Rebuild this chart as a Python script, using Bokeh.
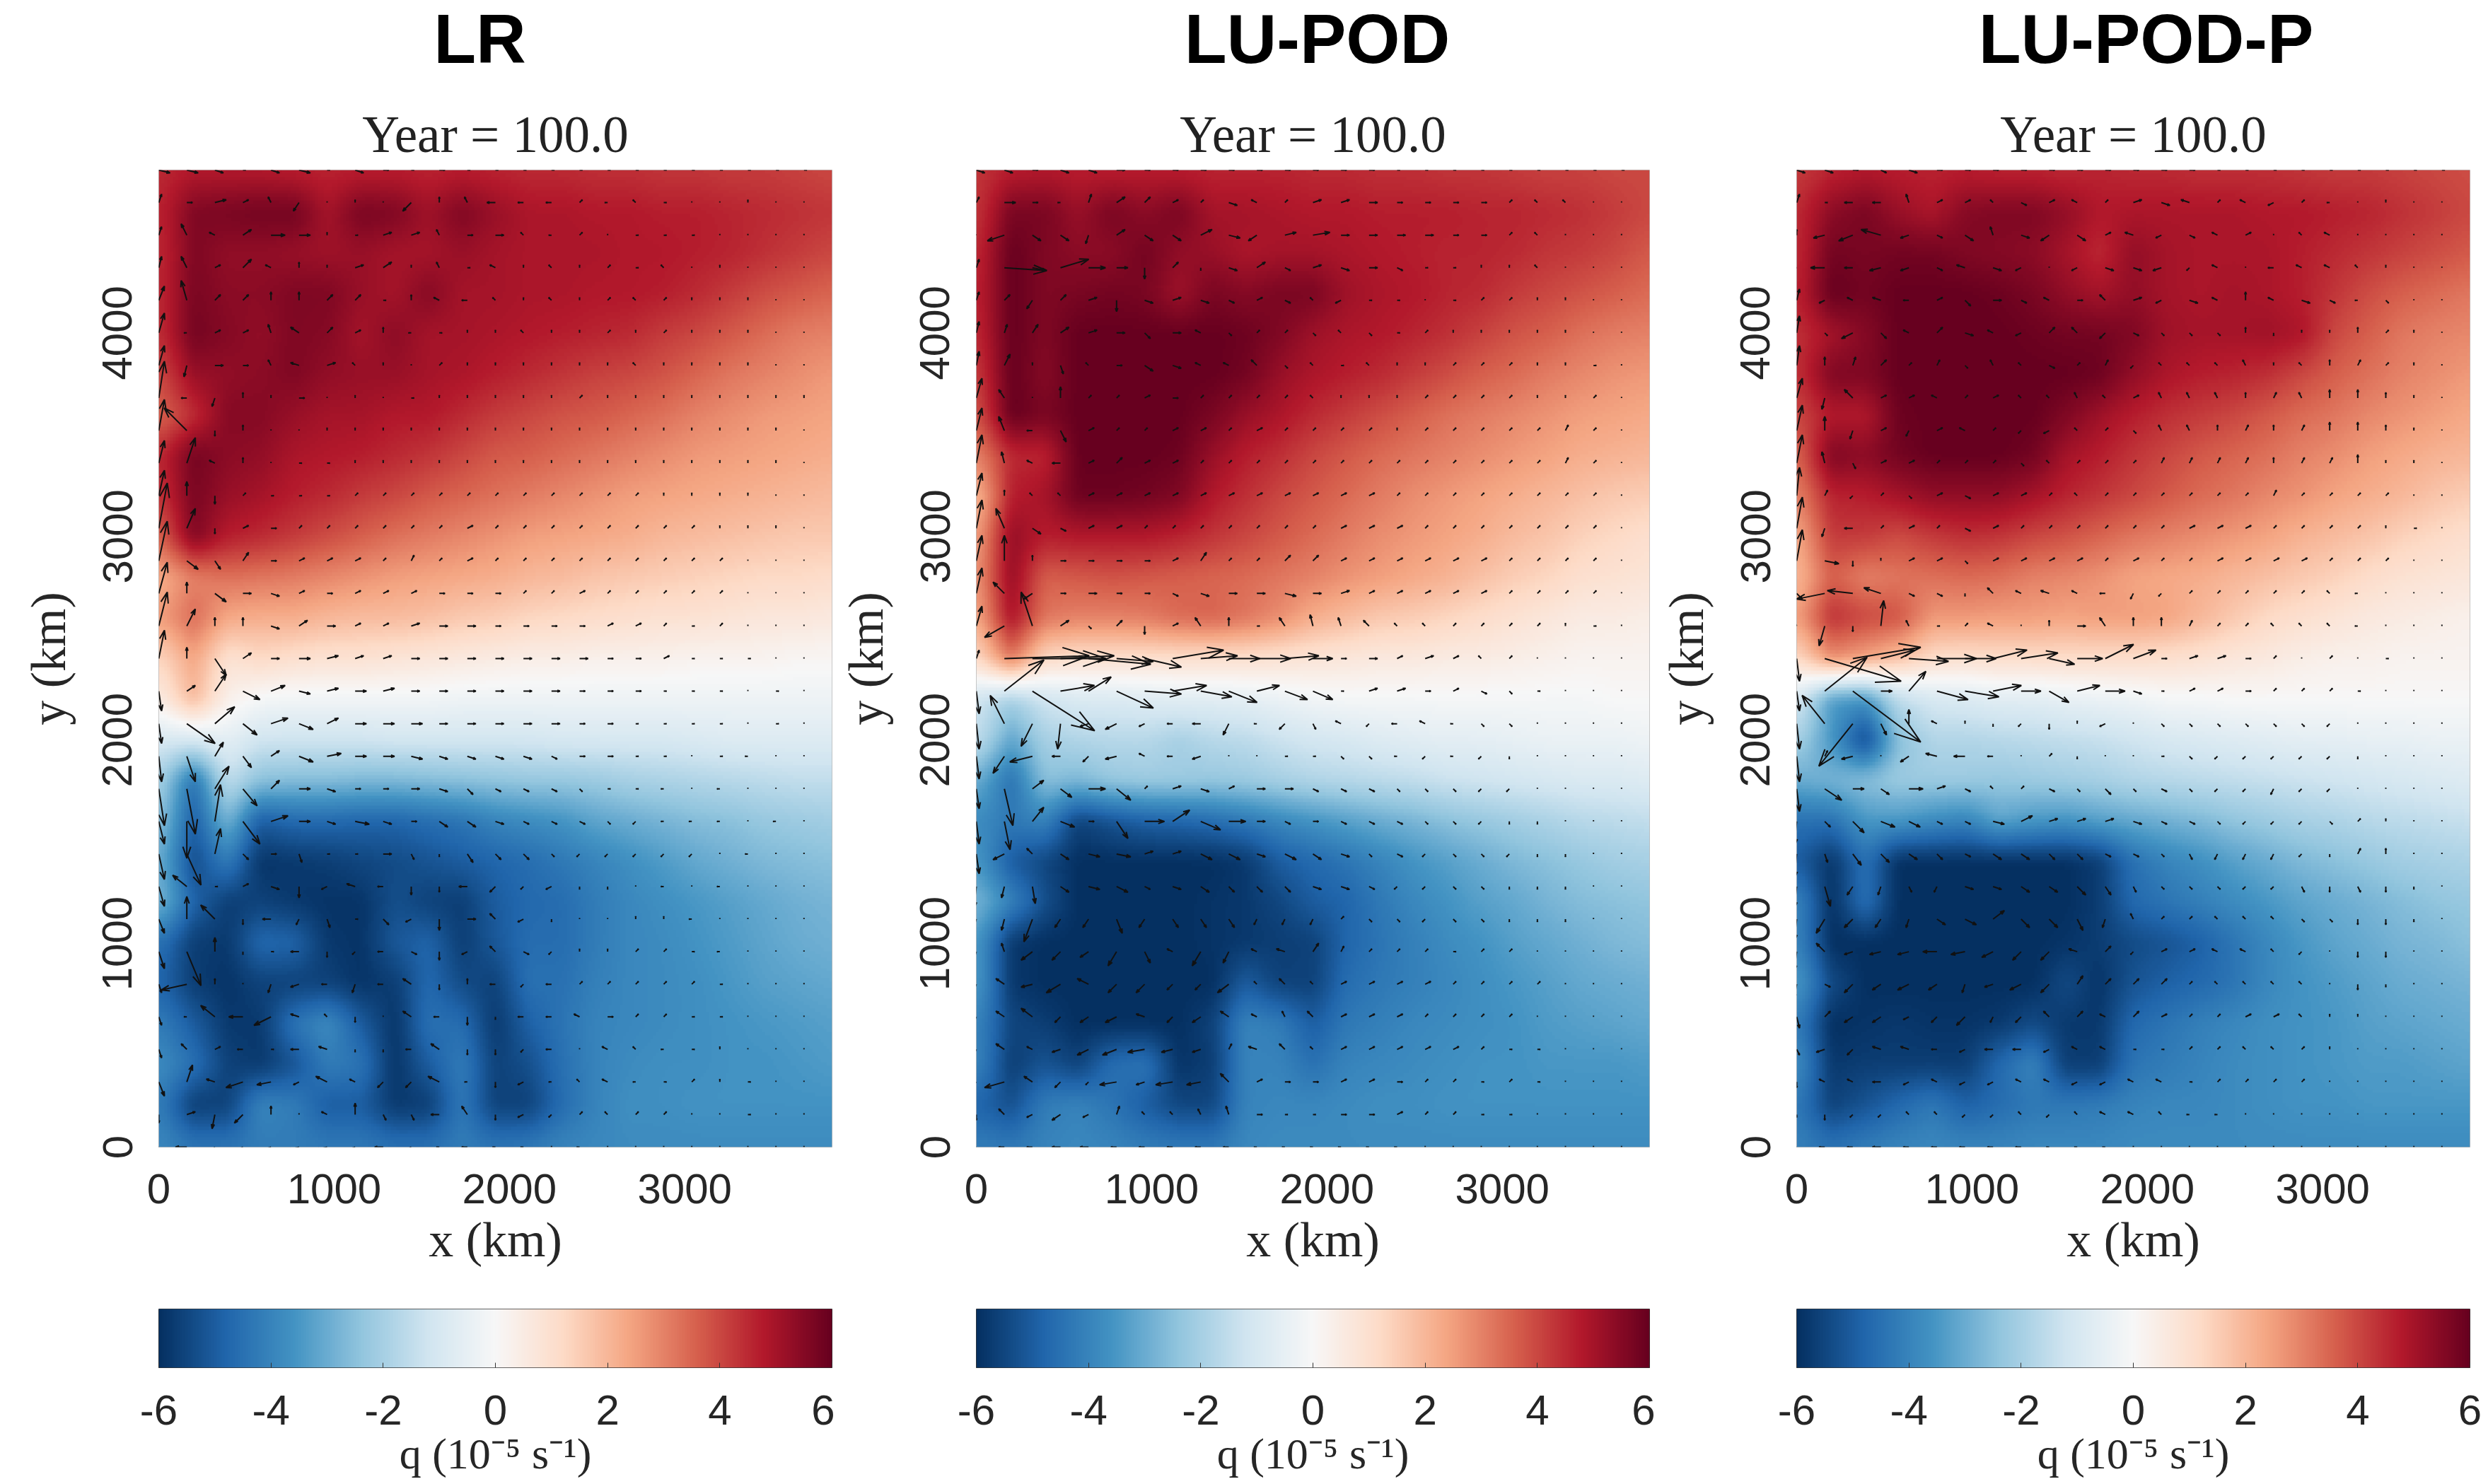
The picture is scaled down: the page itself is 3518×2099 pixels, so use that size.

import numpy as np
from bokeh.plotting import figure
from bokeh.layouts import column, row
from bokeh.models import LinearColorMapper, FixedTicker, Range1d, Title, ColumnDataSource
from bokeh.embed import file_html
from bokeh.resources import INLINE
from bokeh.core.properties import value

titles = ["LR", "LU-POD", "LU-POD-P"]
x_ticks = [0, 1000, 2000, 3000]
y_ticks = [0, 1000, 2000, 3000, 4000]
bar_ticks = [-6, -4, -2, 0, 2, 4, 6]
anchors = ["#053061","#2166ac","#4393c3","#92c5de","#d1e5f0","#f7f7f7","#fddbc7","#f4a582","#d6604d","#b2182b","#67001f"]

# q on a grid every 192 km in x and 200 km in y, rows from y=4800 down to y=0
q_lr = [
[4.5,4.8,4.8,4.8,4.7,4.6,4.7,4.7,4.6,4.7,4.6,4.5,4.5,4.4,4.4,4.3,4.3,4.2,4.2,4.1,4.0],
[4.6,5.6,5.7,5.8,5.8,5.0,5.7,5.6,5.1,5.6,5.2,4.9,4.9,4.8,4.8,4.7,4.7,4.6,4.5,4.4,4.3],
[4.5,5.6,5.3,5.3,5.2,5.1,5.2,5.0,5.0,5.2,5.0,4.9,4.9,4.9,4.8,4.8,4.7,4.6,4.4,4.2,4.0],
[4.5,5.7,5.4,5.4,5.6,5.6,5.2,5.0,5.5,5.0,5.0,4.9,4.9,4.8,4.8,4.7,4.5,4.2,3.9,3.7,3.5],
[4.4,5.8,5.5,5.3,5.6,5.5,5.0,5.4,5.0,5.0,4.9,4.8,4.7,4.6,4.5,4.2,4.0,3.7,3.4,3.1,3.0],
[4.0,5.2,5.3,5.4,5.6,5.3,5.2,5.2,5.0,4.9,4.7,4.5,4.3,4.1,4.0,3.8,3.5,3.2,3.0,2.8,2.6],
[3.5,4.4,5.5,5.5,5.2,5.0,5.0,4.8,4.8,4.5,4.2,4.0,3.8,3.7,3.5,3.3,3.0,2.8,2.6,2.5,2.4],
[4.5,5.8,5.4,5.3,4.9,4.8,4.7,4.5,4.3,4.0,3.7,3.6,3.4,3.2,3.0,2.8,2.6,2.5,2.4,2.3,2.2],
[4.3,5.7,5.2,5.0,4.7,4.5,4.2,4.0,3.7,3.5,3.3,3.1,2.9,2.7,2.5,2.4,2.3,2.2,2.1,2.0,1.9],
[3.5,5.6,4.7,4.5,4.2,3.9,3.6,3.3,3.1,2.9,2.7,2.5,2.4,2.3,2.2,2.0,1.9,1.8,1.7,1.6,1.6],
[2.2,3.0,3.3,3.2,3.1,2.9,2.7,2.5,2.4,2.3,2.2,2.0,1.9,1.7,1.6,1.5,1.4,1.3,1.2,1.2,1.1],
[2.5,3.4,2.3,2.2,2.2,2.0,1.9,1.9,1.8,1.6,1.5,1.3,1.2,1.1,1.0,0.9,0.9,0.8,0.7,0.7,0.6],
[1.3,2.4,0.9,1.2,1.0,0.9,0.9,0.8,0.7,0.6,0.5,0.4,0.4,0.3,0.3,0.3,0.2,0.2,0.2,0.1,0.1],
[0.5,2.0,0.3,-0.1,-0.2,-0.2,-0.2,-0.2,-0.2,-0.3,-0.3,-0.3,-0.3,-0.3,-0.3,-0.3,-0.3,-0.3,-0.3,-0.3,-0.3],
[-1.0,-1.0,-0.6,-1.2,-1.2,-1.2,-1.2,-1.1,-1.1,-1.1,-1.1,-1.1,-1.0,-1.0,-1.0,-1.0,-0.9,-0.8,-0.8,-0.8,-0.8],
[-2,-4.5,-1.5,-2.5,-2.6,-2.6,-2.7,-2.7,-2.6,-2.5,-2.4,-2.3,-2.3,-2.2,-2,-1.9,-1.8,-1.7,-1.6,-1.5,-1.5],
[-2.5,-5.0,-2.8,-5,-4.7,-4.7,-4.8,-4.8,-4.6,-4.4,-4,-3.8,-3.6,-3.2,-3,-2.8,-2.6,-2.5,-2.3,-2.2,-2.1],
[-3,-5.4,-4.2,-5.9,-5.8,-5.7,-5.5,-5.4,-5.2,-5,-4.8,-4.6,-4.3,-4.0,-3.7,-3.4,-3.1,-2.9,-2.7,-2.6,-2.5],
[-2.8,-4.8,-5.7,-5.6,-5.8,-5.9,-5.9,-5.3,-5.6,-5.7,-5.0,-4.7,-4.6,-4.2,-3.9,-3.7,-3.5,-3.3,-3.1,-2.9,-2.8],
[-4.5,-5.7,-5.8,-4.7,-4.8,-5.8,-5.9,-5.1,-4.8,-5.7,-5.1,-4.6,-4.6,-4.2,-3.9,-3.8,-3.6,-3.4,-3.2,-3,-2.9],
[-4.8,-5.7,-5.9,-5.6,-5.6,-5.6,-5.9,-5.7,-4.7,-5.4,-5.6,-4.5,-4.5,-4.1,-3.9,-3.8,-3.7,-3.5,-3.3,-3.2,-3.1],
[-4.2,-5.0,-5.8,-5.8,-4.4,-3.8,-5.0,-5.9,-4.5,-4.6,-5.8,-4.9,-4.4,-4.0,-3.9,-3.8,-3.7,-3.6,-3.5,-3.4,-3.3],
[-3.8,-4.5,-5.6,-5.8,-5.2,-4.2,-4.4,-5.9,-5.0,-4.2,-5.6,-5.3,-4.5,-4.0,-3.8,-3.7,-3.7,-3.6,-3.6,-3.5,-3.4],
[-4.2,-5.7,-5.6,-4.0,-4.2,-5.0,-5.0,-5.8,-5.7,-4.3,-5.6,-5.6,-4.6,-4.0,-3.7,-3.7,-3.6,-3.6,-3.6,-3.6,-3.6],
[-3.9,-4.4,-4.4,-4.2,-4.2,-4.3,-4.3,-4.5,-4.5,-4.2,-4.4,-4.3,-4.0,-3.9,-3.8,-3.8,-3.8,-3.8,-3.8,-3.8,-3.8],
]
q_pod = [
[4.3,4.7,4.8,4.7,4.7,4.7,4.7,4.6,4.6,4.6,4.5,4.5,4.4,4.4,4.3,4.3,4.2,4.1,4.1,4.0,4.0],
[4.3,5.7,5.7,5.2,5.7,5.4,5.7,5.0,5,4.9,4.8,4.8,4.7,4.7,4.7,4.6,4.6,4.5,4.4,4.2,4.0],
[4.5,6,5.6,5.4,5.4,5.8,5.3,5.2,4.9,5,5,4.9,4.8,4.7,4.6,4.6,4.5,4.3,4.2,4.0,3.7],
[4.6,6,5.6,5.7,5.8,5.7,5.1,5.7,5.5,5.7,5.7,5.1,4.9,4.8,4.6,4.5,4.2,4.0,3.8,3.6,3.4],
[4.5,6,5.6,6,6,6,6,6,5.9,5.6,5.1,4.9,4.8,4.6,4.4,4.1,3.8,3.6,3.3,3.1,3.0],
[4.2,6,5.5,6,6,6,6,6,5.8,5.2,4.9,4.7,4.5,4.2,3.9,3.6,3.4,3.1,2.9,2.7,2.6],
[3.8,6,5.7,6,6,6,6,5.7,5.2,4.9,4.5,4.2,3.9,3.6,3.3,3.1,2.9,2.7,2.5,2.4,2.3],
[3.0,4.5,4.6,6,6,6,5.9,5.2,4.7,4.4,4.0,3.7,3.4,3.2,3.0,2.8,2.6,2.4,2.2,2.1,2.0],
[2.0,4.7,5.0,5.9,5.9,5.8,5.6,4.8,4.4,4.0,3.7,3.4,3.1,2.8,2.6,2.4,2.2,2.0,1.8,1.6,1.5],
[2.5,5.3,4.7,4.8,4.8,4.8,4.6,4.3,4.0,3.7,3.4,3.1,2.8,2.6,2.4,2.2,1.9,1.7,1.4,1.2,1.0],
[2.7,5.3,3.6,3.7,3.8,3.7,3.6,3.5,3.4,3.2,3.0,2.7,2.5,2.3,2.1,1.8,1.5,1.3,1.0,0.9,0.8],
[2.3,5.0,3.2,3.0,3.0,3.1,3.4,3.5,3.2,2.8,2.2,1.9,1.6,1.5,1.3,1.1,0.9,0.7,0.5,0.5,0.4],
[1.2,3.2,1.2,1.0,1.0,1.0,1.0,1.0,1.0,0.9,0.8,0.7,0.6,0.6,0.5,0.5,0.4,0.3,0.2,0.2,0.2],
[-1.2,-2.0,-1.2,-0.9,-0.9,-0.8,-0.7,-0.7,-0.6,-0.4,-0.2,-0.1,-0.1,-0.1,-0.1,-0.1,-0.1,-0.1,-0.1,0,0],
[-1.5,-3.2,-2.0,-1.8,-1.7,-1.7,-2.0,-1.7,-1.6,-1.3,-1.1,-1.0,-0.8,-0.7,-0.6,-0.6,-0.5,-0.4,-0.4,-0.4,-0.3],
[-3,-4.5,-2.5,-2.7,-2.3,-2.2,-2.2,-2.3,-2.2,-2.0,-1.8,-1.7,-1.6,-1.5,-1.3,-1.2,-1.1,-1.0,-0.9,-0.9,-0.8],
[-3.8,-4.3,-4,-5.6,-5.2,-4.9,-4.8,-4.6,-4.3,-3.9,-3.6,-3.3,-3.0,-2.8,-2.5,-2.3,-2.1,-1.9,-1.7,-1.6,-1.5],
[-3.5,-5.0,-5.5,-6,-6,-6,-6,-6,-5.8,-5.0,-4.7,-4.4,-4.0,-3.6,-3.3,-3.0,-2.7,-2.5,-2.3,-2.1,-2.0],
[-2.8,-4,-5.3,-6,-6,-6,-6,-5.9,-5.8,-5.5,-5,-4.8,-4.3,-3.9,-3.6,-3.3,-3.1,-2.8,-2.6,-2.5,-2.4],
[-3.5,-5.8,-6,-6,-6,-6,-6,-5.9,-5.8,-5.7,-5.6,-4.8,-4.4,-4.1,-3.8,-3.6,-3.3,-3.1,-2.9,-2.7,-2.6],
[-3.5,-5.8,-6,-6,-6,-6,-6,-6,-5,-5.6,-5.6,-4.6,-4.3,-4.1,-3.9,-3.7,-3.5,-3.3,-3.1,-3,-2.9],
[-4.0,-5.5,-5.7,-6,-6,-6,-6,-5.6,-4.0,-4.2,-5.0,-4.3,-4.1,-3.9,-3.8,-3.7,-3.6,-3.4,-3.3,-3.2,-3.1],
[-4.0,-5.7,-5.2,-5.6,-4.6,-4.4,-5.9,-5.7,-4.0,-4.0,-4.5,-4.0,-3.9,-3.8,-3.7,-3.6,-3.6,-3.5,-3.5,-3.5,-3.4],
[-4.8,-5.3,-4.2,-4.0,-4.4,-5.0,-5.5,-5.5,-4,-3.9,-3.9,-3.8,-3.7,-3.7,-3.6,-3.6,-3.6,-3.6,-3.6,-3.6,-3.6],
[-4.2,-4.3,-4.0,-3.9,-4.0,-4.2,-4.3,-4.3,-3.9,-3.8,-3.8,-3.8,-3.8,-3.8,-3.8,-3.8,-3.8,-3.8,-3.8,-3.8,-3.8],
]
q_podp = [
[4.2,4.6,4.8,4.7,4.6,4.7,4.6,4.6,4.5,4.6,4.5,4.5,4.4,4.4,4.4,4.3,4.2,4.2,4.1,4,3.9],
[4.5,5.4,5.7,5.2,4.9,5.5,5.6,5.6,5.3,4.8,4.9,4.9,4.9,4.9,4.8,4.8,4.7,4.6,4.4,4.2,4],
[4.5,5.8,5.7,5.8,5.8,5.6,5.5,5.4,5,4.5,5.3,5,4.9,4.9,4.9,4.7,4.5,4.3,4.1,3.9,3.7],
[4.6,6,5.8,6,6,6,5.9,5.7,5.3,5,5.3,5,4.9,5,4.9,4.7,4.3,3.9,3.6,3.4,3.2],
[4.4,5,5.5,6,6,6,6,5.9,5.8,5.8,5.6,5.1,5,5,5.1,4.9,4,3.6,3.2,3,2.9],
[4.4,5.6,5.6,6,6,6,6,6,6,5.9,5.3,4.9,4.7,4.6,4.4,4,3.6,3.3,3,2.8,2.6],
[4,4.8,4.8,5.9,6,6,6,6,5.6,5.1,4.7,4.4,4.2,4,3.7,3.4,3.2,2.9,2.7,2.5,2.3],
[3.5,5.6,5.4,5.8,6,6,6,5.8,5,4.7,4.3,4,3.7,3.5,3.3,3,2.8,2.5,2.3,2.1,2.0],
[3,4.6,4.7,5.0,5.3,5.3,5.3,5,4.6,4.3,4,3.7,3.4,3.2,2.9,2.7,2.4,2.2,2,1.7,1.5],
[2.3,4.2,4.2,3.9,4.2,4.4,4.3,4,3.8,3.5,3.2,3,2.8,2.6,2.4,2.1,1.9,1.7,1.4,1.2,1],
[2.0,3.6,3.0,3.2,3.3,3.4,3.3,3.0,2.9,2.7,2.4,2.3,2.2,2.0,1.8,1.6,1.4,1.1,0.9,0.8,0.7],
[2.5,4.4,4.0,3.8,2.6,2.6,2.5,2.5,2.4,2.5,2.5,2.4,2.0,1.6,1.2,1.0,0.8,0.6,0.5,0.4,0.3],
[1.2,2.8,2.4,1.8,1.1,1.0,1.1,1.1,1.1,1.1,1.1,1.0,0.9,0.7,0.6,0.4,0.3,0.3,0.2,0.2,0.2],
[-1.0,-3.4,-3.6,-1.6,-1.0,-0.9,-0.7,-0.7,-0.5,-0.4,-0.3,-0.1,-0.1,0,0,0,0,0,0,0,0],
[-2,-3.5,-5.5,-2.5,-1.8,-1.8,-1.7,-1.6,-1.5,-1.4,-1.2,-1.0,-0.9,-0.8,-0.7,-0.6,-0.6,-0.5,-0.5,-0.4,-0.4],
[-3,-2.8,-2.5,-2.2,-2.2,-2.2,-2.3,-2.2,-2.1,-2.0,-1.8,-1.7,-1.6,-1.5,-1.4,-1.3,-1.2,-1.1,-1.0,-0.9,-0.8],
[-4.5,-4.5,-3.5,-3.5,-3.8,-4,-3.2,-3.5,-3.6,-3.3,-3.1,-2.9,-2.7,-2.4,-2.2,-2,-1.9,-1.7,-1.6,-1.5,-1.4],
[-5,-5.9,-4.5,-6,-6,-6,-6,-6,-6,-5.7,-4.5,-4,-3.7,-3.3,-3,-2.7,-2.5,-2.3,-2.1,-2,-1.9],
[-4,-6,-4.5,-6,-6,-6,-6,-6,-6,-5.7,-4.7,-4.4,-4.1,-3.8,-3.5,-3.2,-3,-2.8,-2.6,-2.4,-2.3],
[-4,-6,-6,-6,-6,-6,-6,-6,-5.9,-5.7,-5.4,-5.2,-4.9,-4.4,-3.9,-3.5,-3.2,-3,-2.8,-2.7,-2.5],
[-3.5,-5.4,-6,-6,-6,-6,-6,-6,-5.4,-5.9,-5.2,-4.9,-4.7,-4.4,-3.9,-3.6,-3.4,-3.2,-3,-2.9,-2.8],
[-4.2,-6,-5.9,-5.8,-5.9,-5.9,-5.8,-5.4,-5.8,-5.8,-4.7,-4.4,-4.1,-3.9,-3.7,-3.6,-3.5,-3.3,-3.2,-3.1,-3],
[-3.8,-5.8,-5.7,-5.7,-5.7,-5.7,-4.7,-4,-5.7,-5.7,-4.4,-4.2,-4,-3.8,-3.7,-3.6,-3.5,-3.4,-3.4,-3.3,-3.2],
[-4.3,-5.6,-5.2,-4.7,-4.3,-4.9,-4.6,-4.3,-4.3,-4.2,-4.0,-3.9,-3.9,-3.8,-3.7,-3.6,-3.6,-3.5,-3.5,-3.5,-3.5],
[-4.1,-4.5,-4.2,-4.0,-3.9,-4.0,-4.0,-3.9,-3.9,-3.9,-3.8,-3.8,-3.8,-3.8,-3.8,-3.8,-3.8,-3.8,-3.8,-3.8,-3.8],
]

# velocity arrows every 160 km, rows from y=4800 down to y=0, columns from x=0
u_lr = [
[4,4,3,1,3,4,1,3,2,1,2,1,1,1,1,1,1,1,1,1,1,1,1,1],
[1,2,4,2,-1,-2,0,0,0,-3,0,-1,-3,-2,-2,1,-1,-1,1,0,0,0,0,0],
[1,-2,-2,3,5,4,0,1,3,3,-1,2,3,-1,-1,1,0,1,1,1,0,0,0,0],
[1,-2,2,3,-2,0,0,3,3,0,-1,1,-2,0,-1,0,1,1,-1,0,0,0,0,0],
[2,-2,2,2,0,0,2,2,1,0,-2,-2,-1,0,-1,0,1,-1,1,0,0,0,0,0],
[2,-1,2,2,-1,-3,2,2,0,-1,1,0,0,-1,0,0,1,0,1,0,0,0,0,0],
[2,-1,3,2,-1,-3,3,-1,0,0,1,0,0,0,0,0,0,-1,0,0,0,0,0,0],
[2,-2,-1,0,0,2,0,0,0,1,0,0,0,0,0,1,0,0,0,0,0,0,0,0],
[2,-8,0,0,0,0,0,0,0,0,0,0,0,0,0,0,0,0,0,0,0,0,0,0],
[2,3,-2,0,0,1,1,0,0,0,0,0,0,0,0,0,0,0,0,0,0,0,0,0],
[2,0,0,1,1,1,1,1,1,1,1,1,1,1,1,1,1,1,0,0,0,0,0,0],
[3,3,0,2,2,1,1,1,1,1,1,2,1,1,1,1,1,1,1,1,0,0,0,0],
[3,4,2,2,2,2,2,2,1,1,1,2,1,1,1,1,1,1,1,1,1,0,0,0],
[3,0,4,3,3,2,2,2,2,2,2,2,2,1,1,2,1,1,1,1,1,0,0,0],
[3,3,0,0,3,3,3,2,2,3,3,3,2,2,2,2,2,2,1,1,1,0,0,0],
[2,0,4,3,3,4,4,3,3,3,3,3,3,3,3,3,2,2,2,1,1,1,0,0],
[1,3,4,6,5,4,4,4,4,3,3,3,3,3,3,2,2,2,1,1,1,0,1,0],
[1,10,7,5,6,5,4,4,4,4,3,3,3,3,3,2,2,1,1,1,1,0,1,0],
[1,3,3,3,3,5,5,4,4,4,3,3,3,3,2,2,2,1,1,0,1,-1,0,0],
[2,3,5,5,3,4,3,2,2,3,3,2,2,2,2,1,1,1,-1,0,-1,0,0,0],
[2,0,2,6,6,4,3,5,3,2,3,3,3,2,2,2,1,-1,-1,-1,-1,0,-1,0],
[2,5,2,2,2,1,1,1,3,1,0,2,2,2,1,-1,-1,-1,-1,-1,0,-1,0,0],
[2,-5,1,2,3,0,-2,-3,-2,0,0,-3,-2,-1,-2,0,0,0,-1,0,-1,0,0,0],
[2,0,-5,0,-3,-1,1,1,2,-2,0,3,-2,-2,0,0,0,0,0,-1,0,0,0,0],
[2,5,0,0,1,-3,0,-1,-2,2,0,-2,-2,2,-1,0,0,1,1,1,-1,0,0,0],
[1,-9,0,0,-1,-3,-2,-1,-2,-3,0,0,-2,-1,-2,1,1,1,1,1,1,0,0,0],
[1,-1,-5,-5,-6,-3,-1,0,0,-3,-2,0,0,-2,-2,-2,2,1,1,1,1,0,0,0],
[1,-2,2,-2,1,-3,-3,0,0,-2,-3,0,0,-1,-2,0,-2,-1,-1,1,0,0,0,0],
[2,2,-3,-6,-5,-2,-4,-2,-2,-2,-4,-1,0,-2,-1,-1,-2,-1,1,1,0,1,0,0],
[0,3,-1,-3,0,0,-2,0,1,1,-3,-2,0,-2,-1,1,-1,1,1,0,0,1,0,0],
[-4,-4,-1,-2,-3,-4,-4,-3,-3,-2,-1,-2,-1,-1,0,-1,0,0,0,0,0,0,0,0],
]
v_lr = [
[-1,-1,-1,0,-1,-1,0,-1,0,0,0,0,0,0,0,0,0,0,0,0,0,0,0,0],
[3,0,1,1,2,-3,0,1,0,-3,2,2,0,0,0,1,0,1,0,0,0,1,0,0],
[3,4,1,2,0,0,1,0,1,1,2,0,0,1,0,1,0,0,0,0,0,0,0,0],
[4,4,1,3,1,2,1,1,2,1,2,0,1,1,1,1,1,0,1,0,1,0,0,0],
[5,7,2,2,3,3,2,2,0,2,1,0,1,1,1,1,1,1,1,1,1,1,0,0],
[7,0,1,1,3,2,2,1,2,0,0,1,1,1,1,1,1,1,1,1,1,1,0,0],
[7,-4,0,0,2,1,1,1,1,0,1,1,1,1,1,1,1,1,1,1,1,1,0,0],
[13,0,-3,2,1,0,0,1,0,0,1,1,1,1,1,1,1,1,1,1,1,1,1,1],
[11,8,-2,2,0,0,1,1,1,1,1,1,1,1,1,1,1,1,1,1,1,1,1,0],
[8,9,1,2,0,0,0,1,1,1,1,1,1,1,1,1,1,1,1,1,1,1,1,0],
[9,5,-3,1,0,0,0,1,1,1,1,1,1,1,1,1,1,1,1,1,1,1,0,0],
[16,7,-2,1,0,1,1,1,1,1,1,1,1,1,1,1,1,1,1,1,1,1,1,0],
[14,-3,-3,3,0,1,1,1,1,2,1,1,1,1,1,1,1,1,1,1,1,0,0,0],
[11,4,-3,0,-1,1,0,1,1,1,0,0,0,1,1,1,1,1,1,1,1,0,0,0],
[12,6,3,3,-1,2,0,1,1,1,0,0,0,0,0,0,1,1,1,0,1,0,0,0],
[10,4,-6,2,0,0,1,1,1,0,0,0,0,0,0,0,0,0,1,0,0,0,0,0],
[-7,2,6,-3,2,-1,1,0,1,0,0,0,0,0,0,0,0,0,0,0,0,0,0,0],
[-7,-7,6,-4,2,-2,2,0,0,0,0,0,0,0,0,0,0,0,0,0,0,0,0,0],
[-9,-9,5,-4,2,-2,1,0,0,-1,-1,-1,-1,-1,-1,0,0,0,0,0,0,0,0,0],
[-13,-16,8,-6,3,0,-1,0,0,0,-1,-2,-1,-1,-1,-1,0,0,0,0,0,0,0,0],
[-8,-13,13,-8,2,0,-1,-1,-1,0,-2,-2,-1,-1,-1,-1,-1,-1,0,0,0,0,0,0],
[-9,-11,9,-2,0,-3,0,0,0,-2,-1,-3,-2,-2,-1,-1,-1,-1,-1,-1,0,0,0,0],
[-7,4,0,1,-1,-4,-1,1,0,-3,-2,0,-2,-1,-1,-1,-1,0,0,0,0,0,0,0],
[-5,8,5,-2,0,-2,-3,0,-2,-1,-4,0,2,-1,-1,0,0,1,1,0,0,0,0,0],
[-6,-12,5,-1,0,0,-2,-1,0,-1,-3,-1,2,-1,-1,1,1,1,1,0,0,0,0,0],
[-3,-2,2,0,-3,-1,0,-3,0,2,-2,2,0,-1,0,1,1,1,1,1,0,0,0,0],
[-3,0,4,0,-3,1,1,-2,0,2,0,-3,-1,0,0,1,0,1,1,0,0,0,0,0],
[-3,2,1,0,0,0,1,-1,-1,0,2,-2,-2,-1,0,0,1,1,0,0,1,0,0,0],
[-5,6,1,-2,-1,-1,2,1,-2,-2,2,0,-2,-1,0,1,1,0,0,1,1,0,0,0],
[-3,1,-5,-3,3,0,1,4,-2,-2,0,3,-2,-1,-1,1,1,1,1,0,0,0,0,0],
[0,0,-1,-1,-1,-1,-1,-1,0,-1,0,0,0,0,0,0,0,0,0,0,0,0,0,0],
]
u_pod = [
[3,3,2,3,3,3,2,2,2,2,2,2,2,2,2,1,1,1,1,1,1,1,1,1],
[1,4,2,-1,1,3,2,2,1,3,-2,1,3,3,3,2,2,2,2,1,-1,-1,0,0],
[-2,-6,3,3,-1,3,3,3,4,4,-3,4,6,3,3,3,3,2,2,1,-1,0,0,0],
[1,15,5,10,6,4,0,2,0,3,3,2,3,3,3,2,1,1,0,0,-1,0,0,0],
[1,2,-2,2,3,0,3,3,3,2,2,2,-1,-2,1,1,0,1,1,1,0,0,0,0],
[1,1,2,3,3,3,2,3,-2,1,1,1,1,-1,1,1,1,0,0,0,0,0,0,0],
[1,2,0,1,-1,2,3,3,-2,-2,-2,1,-1,1,-1,0,0,1,1,1,0,0,1,0],
[2,-2,0,0,1,1,2,2,1,1,1,1,-1,0,0,0,1,1,1,1,0,0,1,0],
[2,-2,-2,2,2,1,1,2,2,1,2,1,1,1,1,0,1,1,1,1,1,1,1,0],
[2,-1,-2,-3,2,2,2,2,1,1,1,1,1,1,1,1,1,1,1,1,1,1,1,0],
[2,0,-1,-1,2,2,2,2,2,2,2,2,2,2,2,1,1,1,1,1,1,1,1,0],
[2,-3,3,2,2,2,1,1,1,1,1,1,1,2,2,2,1,1,1,1,1,1,1,0],
[2,0,0,2,2,2,2,2,2,1,1,2,2,2,2,2,2,2,2,1,1,1,1,0],
[2,-4,-3,2,3,2,2,2,3,3,3,4,3,3,2,2,2,2,2,1,1,1,1,0],
[2,-7,-4,3,1,2,0,2,-2,0,1,-2,-1,-1,-2,-1,-1,1,1,1,1,0,1,0],
[1,30,26,19,22,13,13,18,13,11,12,12,7,2,3,2,3,2,-1,1,0,0,0,0],
[1,14,22,12,8,13,13,12,11,10,8,8,7,1,3,3,2,2,2,1,1,0,0,0],
[1,-5,-4,-1,-3,-4,-2,-2,-3,-2,-1,-2,1,-2,-1,-2,-2,-1,1,1,0,0,0,0],
[1,-4,-8,-3,-2,-4,-2,-2,-3,0,0,1,1,1,1,-1,-1,-1,-1,0,0,0,0,0],
[1,3,4,4,6,5,1,3,3,2,3,3,2,2,2,1,1,1,-1,-1,0,0,0,0],
[1,2,4,5,2,4,7,6,7,6,3,2,2,2,2,2,1,1,-1,0,0,0,0,0],
[1,-4,-2,3,4,5,3,3,4,4,3,4,3,3,1,2,-1,1,1,-1,0,0,0,0],
[-1,-1,1,3,4,4,2,3,3,2,2,2,3,3,2,-1,-1,1,1,0,0,0,0,0],
[-2,-1,-3,-2,-2,2,-2,2,2,2,-1,-1,-1,1,1,1,-1,1,1,0,0,0,0,0],
[-2,-1,-4,-3,-3,-3,2,-2,-3,-2,-2,-3,2,1,1,1,1,1,1,1,0,0,0,0],
[-2,-3,-4,-5,-4,-3,-3,-2,-2,-4,-1,-2,-1,2,2,2,2,1,1,1,1,0,0,0],
[-2,-3,-4,-2,-3,-4,-3,-2,-3,-3,-2,-1,-2,2,2,2,1,1,1,1,0,0,0,0],
[-2,-3,-2,-3,-4,-5,-6,-4,-3,1,-3,-2,-1,2,2,2,2,2,1,1,1,0,0,0],
[-3,-7,-3,-2,-1,-6,-3,-6,-5,-3,2,2,2,2,2,2,1,1,1,1,1,0,0,0],
[0,-2,-2,-3,-2,1,-1,-1,-1,-1,2,1,1,2,2,2,1,1,1,1,0,0,0,0],
[-3,-2,-2,-3,-3,-2,-2,-2,-2,-2,-1,-1,-1,-1,-1,-1,0,0,0,0,0,0,0,0],
]
v_pod = [
[-1,-1,0,-1,-1,0,0,0,0,0,0,0,0,0,0,0,0,0,0,0,0,0,0,0],
[2,0,0,0,3,2,2,1,1,-1,1,1,1,1,0,0,0,0,0,1,1,1,0,0],
[2,-2,-2,-2,-3,2,-2,-2,2,-1,-2,1,1,0,0,0,0,0,0,1,1,0,0,0],
[3,-1,-1,3,0,0,-4,2,-1,-1,2,-1,1,-1,0,-1,0,0,1,1,1,0,0,0],
[3,2,-3,2,1,-4,-1,1,-1,-1,1,-1,1,-1,0,0,0,0,1,1,1,1,0,0],
[4,3,3,2,1,0,-2,0,1,-1,1,1,-1,1,-1,0,1,1,1,1,1,1,0,0],
[5,4,1,-3,1,0,-2,-1,1,1,2,-1,1,0,1,1,1,1,1,1,1,1,0,0],
[7,3,0,4,1,1,1,0,1,1,1,1,1,1,1,1,1,1,1,1,1,1,1,0],
[8,5,0,-4,1,1,1,1,1,1,1,1,1,1,1,1,1,1,1,1,1,2,1,0],
[10,4,1,0,1,2,1,1,1,1,1,1,1,1,1,1,1,1,1,1,1,2,1,0],
[8,2,1,1,1,1,1,1,1,1,1,1,1,1,1,1,1,1,1,1,1,1,1,0],
[10,7,-2,-1,1,1,1,1,1,1,1,1,1,1,1,1,1,1,1,1,1,1,1,0],
[9,9,2,0,0,0,0,1,3,1,1,2,2,1,1,1,1,1,1,1,1,1,1,0],
[9,4,-2,0,0,0,0,-1,-1,0,0,-1,0,1,1,1,1,1,1,1,1,1,1,0],
[7,-4,12,2,-1,2,-3,1,3,3,0,3,4,3,2,1,1,1,1,1,1,1,0,0],
[3,1,0,1,-2,-1,-3,3,1,0,0,1,0,0,0,1,1,1,1,1,0,0,0,0],
[-8,11,-14,2,5,-6,-1,2,-2,-4,2,-3,-3,0,1,1,0,1,-1,-1,0,0,0,0],
[-9,10,-8,-9,-1,-2,-1,0,0,-4,0,-2,-2,1,-1,0,1,0,-1,-1,0,0,0,0],
[-8,-6,-2,0,-2,-1,1,0,-1,0,0,0,0,-1,-1,0,-1,0,-1,-1,0,0,0,0],
[-7,-13,3,-3,0,-4,1,1,-1,1,0,0,-1,-1,-1,-1,-1,-1,-1,-1,0,0,0,0],
[-8,-10,5,-2,0,-6,0,4,-3,0,0,-1,0,-1,-1,-1,-1,-1,-1,-1,-1,0,0,0],
[-7,-2,2,-2,-1,-1,1,1,-2,-2,-1,-2,-2,-1,-1,-1,-1,-1,-1,-1,-1,-1,0,0],
[-8,-4,-6,-2,-1,-2,-1,-1,-2,-2,-2,-2,-1,-1,-1,-1,-1,-1,-1,-1,-1,-1,0,0],
[-6,-4,-8,-3,-3,-5,-3,-3,-3,-3,-2,-2,-2,1,-1,-1,-1,-1,-1,-1,-1,-1,0,0],
[-6,3,-3,-3,-2,-5,-4,1,-5,-4,1,1,3,2,1,1,1,0,1,1,0,0,0,0],
[-5,2,-1,-3,2,-3,-3,-2,-2,-3,1,2,1,1,1,1,1,1,1,1,1,0,0,0],
[-4,2,3,-2,-2,-2,1,-2,-2,2,1,2,2,1,1,1,1,1,1,1,0,0,0,0],
[-4,2,1,-1,-2,-2,-1,-1,-1,2,1,2,1,1,1,1,1,1,1,0,0,0,0,0],
[-3,-2,2,-2,-1,-1,-1,-1,-1,3,1,0,0,1,1,0,1,1,0,1,0,0,0,0],
[-2,2,-1,-2,-1,3,1,1,2,3,0,0,0,0,0,1,1,1,0,0,0,0,0,0],
[0,0,0,0,0,0,0,0,0,0,0,0,0,0,0,0,0,0,0,0,0,0,0,0],
]
u_podp = [
[3,3,2,2,3,2,2,2,2,2,2,2,2,2,2,1,1,1,1,1,1,1,1,1],
[1,1,-3,-3,-1,2,2,-1,2,2,-2,1,3,3,-3,1,-2,-2,1,-1,0,0,0,0],
[0,-4,-5,-7,-3,2,3,-1,3,-3,3,2,-3,-2,2,-2,2,0,-1,-2,0,0,0,0],
[-8,-5,-3,-4,-3,2,-3,3,-2,0,-2,3,3,-3,-1,-2,0,-2,-2,-2,-1,0,0,0],
[1,-2,-2,-3,-2,2,2,3,2,-2,2,-2,3,-2,3,-2,0,-2,3,2,-1,1,0,0],
[1,1,-4,2,-2,2,3,-2,-2,2,-2,-2,2,1,1,1,0,0,0,0,0,1,0,0],
[1,0,1,2,1,1,1,-1,-1,2,1,1,-1,-1,-1,-1,-1,0,-1,0,1,1,0,0],
[2,-1,-3,2,2,-2,1,2,-1,-1,-1,-1,2,-1,-1,-1,0,1,-1,0,0,0,0,0],
[2,0,-1,2,-1,2,-2,1,-1,-2,-1,1,1,-1,-1,0,1,0,1,0,0,0,0,0],
[2,-1,1,2,2,1,1,1,1,-1,1,1,1,1,1,1,1,0,1,1,0,0,0,0],
[1,1,-1,1,1,2,2,2,2,1,-1,1,1,1,1,1,1,1,1,1,1,1,0,0],
[2,-1,-3,1,2,1,2,2,1,1,1,1,1,1,2,2,2,1,1,1,1,0,1,0],
[2,5,0,0,2,2,1,2,2,2,2,1,2,1,1,2,2,2,2,1,1,1,0,0],
[2,-10,-9,-6,2,2,0,-2,-2,-3,-2,-2,-1,-1,1,1,1,1,1,-1,-1,0,0,0],
[-2,-2,0,1,-1,1,1,-2,0,0,3,-2,0,0,1,1,1,-1,-1,-1,-1,0,0,0],
[1,27,24,12,14,14,11,12,13,9,9,10,8,2,3,3,2,1,0,1,0,1,0,0],
[1,15,24,4,6,11,12,10,7,7,8,7,3,1,2,2,2,1,1,1,1,0,0,0],
[1,-8,-12,2,0,-2,0,0,-1,0,0,-2,0,1,1,1,1,1,1,-1,0,0,0,0],
[1,1,-4,0,-3,-4,-4,-2,0,1,0,0,0,1,1,-1,-1,-1,-1,-1,0,0,0,0],
[1,6,4,3,5,3,2,-1,1,2,1,2,1,2,1,-1,-1,-1,-1,-1,0,0,0,0],
[-1,2,4,5,4,2,2,4,4,3,3,3,3,2,2,1,-1,-1,-1,1,1,0,0,0],
[-1,1,3,3,3,2,2,3,3,2,2,2,2,1,1,-1,-1,-1,-1,0,1,0,0,0],
[-1,2,-2,-1,1,-1,3,3,3,3,3,2,1,1,1,1,-1,-1,1,0,1,0,0,0],
[-1,-3,-3,-2,-1,3,4,4,3,3,2,-1,-1,1,1,-1,-1,-1,1,1,0,0,0,0],
[-1,-3,-3,-4,-4,-5,-5,-4,-3,-3,-3,2,-1,2,2,-2,-2,-1,-1,0,0,0,0,0],
[-1,2,-3,-3,-4,-3,-1,-3,-4,-3,2,2,2,2,1,-1,-1,-1,-1,0,0,0,0,0],
[1,2,-3,-3,-2,-2,-3,-1,-2,-2,2,-2,2,2,1,1,2,2,-1,0,0,0,0,0],
[1,-3,-2,-3,-3,-2,-2,-3,-3,-2,-2,-2,1,1,1,1,-1,-1,1,0,0,0,0,0],
[0,-2,-2,-3,-2,-2,-2,-2,-2,-2,-2,-2,-2,-2,1,1,1,1,1,0,0,0,0,0],
[0,0,-1,-1,-1,-1,-1,-1,-1,-1,-1,-2,-2,-1,-1,-1,0,0,0,0,0,0,0,0],
[-3,-2,-2,-3,-2,-2,-2,-2,-2,-1,-1,-1,0,0,0,0,0,0,0,0,0,0,0,0],
]
v_podp = [
[-1,-1,0,-1,-1,0,0,0,0,0,0,0,0,0,0,0,0,0,0,0,0,0,0,0],
[3,0,0,0,3,1,1,1,-1,1,1,1,1,-1,1,1,1,-1,1,0,0,1,0,0],
[2,-1,-2,2,-1,-1,-2,3,-1,-2,-2,1,1,-1,-1,1,1,0,1,1,0,0,0,0],
[0,0,0,-1,-1,-1,1,-1,-1,0,-1,-1,-1,-1,-1,1,0,0,1,1,1,1,0,0],
[4,-1,1,1,0,1,-2,0,-1,1,0,2,1,-1,-1,1,3,1,-1,-1,0,-1,0,0],
[6,-1,-2,-2,1,2,-1,1,-1,2,2,-2,-1,-1,-1,-1,2,-1,1,1,2,1,1,0],
[7,3,3,2,1,2,-1,2,1,-1,1,2,-1,1,1,1,2,1,1,2,2,1,1,0],
[7,-4,3,1,1,1,1,1,1,1,2,1,1,2,2,2,2,2,2,3,3,2,1,0],
[9,5,-3,1,-2,1,1,1,-1,-1,1,1,-1,2,2,2,2,2,2,3,3,2,1,0],
[10,4,-2,1,1,1,1,1,-1,1,1,1,1,2,2,2,2,2,2,2,3,1,1,0],
[10,2,-1,1,-1,1,-1,1,1,1,1,1,1,1,1,1,1,2,1,1,1,1,0,0],
[11,-3,0,1,1,1,-1,1,1,1,1,1,1,1,1,1,1,1,1,1,1,1,0,0],
[11,-1,-2,1,1,1,-1,1,1,1,1,1,1,1,1,1,1,1,1,1,1,1,0,0],
[-2,-2,1,2,-1,-1,-1,2,1,1,1,0,-2,-1,1,1,1,1,1,1,0,0,0,0],
[4,-7,-2,9,2,0,1,1,0,2,0,3,3,3,2,1,1,1,1,1,0,0,0,0],
[-8,-8,4,3,-1,0,0,3,2,-2,0,5,3,0,1,1,0,1,0,1,0,0,0,0],
[-7,12,-18,0,7,-3,-2,2,0,-4,2,0,-1,0,1,1,0,1,1,1,0,0,0,0],
[-9,10,-15,-4,5,1,1,-1,-1,-2,1,-1,0,-1,-1,-1,-1,-1,-1,-1,0,0,0,0],
[-9,2,-1,0,-2,1,0,0,0,1,-1,0,0,0,-1,-1,-1,-1,-1,-1,-1,0,0,0],
[-8,-4,0,-2,0,1,-1,1,1,-1,-1,-2,-1,-1,-1,-1,-1,-2,-1,-1,0,0,0,0],
[-9,-2,-4,-2,-2,-1,-1,-1,2,1,1,1,-1,-1,-1,-1,-1,-1,-1,-1,1,1,0,0],
[-9,-3,-4,-3,-2,-2,-1,-2,-2,-2,-2,-1,-1,-1,-2,-2,-2,-2,-1,-1,2,2,0,0],
[-8,-7,-3,-3,-2,-2,-1,-1,-2,-2,-3,-3,-2,-1,-1,-1,-1,-1,-2,-2,-2,-2,-1,0],
[-8,-5,-3,-3,-3,-2,-2,3,-3,-3,-4,-3,2,1,1,1,1,1,-1,-1,-2,-2,-1,0],
[-7,3,-1,-1,-1,0,-1,-2,-3,-3,1,2,-1,1,1,1,1,1,-1,0,-2,-2,0,0],
[-5,-1,-3,-2,-2,-2,-3,-1,-2,-3,3,2,2,2,1,1,1,1,1,0,-2,-1,0,0],
[-4,2,-2,-2,-1,-2,-3,-2,-2,2,2,1,2,1,1,1,1,1,1,1,1,0,0,0],
[-2,-1,-2,1,1,0,-1,0,0,-1,1,1,0,0,1,1,1,1,1,1,0,0,0,0],
[-2,1,1,0,-1,1,-1,-1,1,1,-1,-1,1,1,0,1,1,1,1,0,0,0,0,0],
[-1,-2,-1,-1,1,1,-1,-1,1,-1,1,1,1,1,0,0,0,0,0,0,0,0,0,0],
[0,0,0,0,0,0,0,0,0,0,0,0,0,0,0,0,0,0,0,0,0,0,0,0],
]

FW, FH = 952, 1382
XMAX, YMAX = 3840, 4800
km_x, km_y = XMAX / FW, YMAX / FH
ARROW_PX = 4.0
HEAD_H = 110

def rgb(h):
    return [int(h[i:i + 2], 16) for i in (1, 3, 5)]
A = np.array([rgb(h) for h in anchors], float)
palette = ["#%02x%02x%02x" % tuple(int(round(np.interp(s, range(11), A[:, c]))) for c in range(3)) for s in np.linspace(0, 10, 256)]
mapper = LinearColorMapper(palette=palette, low=-6, high=6)

def display_field(rows):
    # screen resampling only, so the read-off grid shows without hard cell edges
    g = np.array(rows, float)[::-1]
    n = 12
    xs = np.linspace(0, g.shape[1] - 1, (g.shape[1] - 1) * n + 1)
    ys = np.linspace(0, g.shape[0] - 1, (g.shape[0] - 1) * n + 1)
    h = np.array([np.interp(xs, np.arange(g.shape[1]), r) for r in g])
    h = np.array([np.interp(ys, np.arange(g.shape[0]), c) for c in h.T]).T
    kern = np.ones(5) / 5
    for _ in range(2):
        h = np.apply_along_axis(lambda a: np.convolve(np.pad(a, 2, mode="edge"), kern, "valid"), 0, h)
        h = np.apply_along_axis(lambda a: np.convolve(np.pad(a, 2, mode="edge"), kern, "valid"), 1, h)
    return h

def quiver_lines(us, vs):
    X, Y = [], []
    U = np.array(us, float)[::-1]; V = np.array(vs, float)[::-1]
    for j in range(U.shape[0]):
        for k in range(U.shape[1]):
            du, dv = U[j, k] * ARROW_PX, V[j, k] * ARROW_PX
            if du == 0 and dv == 0:
                du, dv = 0.0, 1.5
            L = np.hypot(du, dv); a = np.arctan2(dv, du)
            hl = 0.33 * L
            bx = [du - hl * np.cos(a + s) for s in (0.33, -0.33)]
            by = [dv - hl * np.sin(a + s) for s in (0.33, -0.33)]
            x0, y0 = 160.0 * k, 160.0 * j
            X.append([x0, x0 + du * km_x, x0 + bx[0] * km_x, x0 + du * km_x, x0 + bx[1] * km_x])
            Y.append([y0, y0 + dv * km_y, y0 + by[0] * km_y, y0 + dv * km_y, y0 + by[1] * km_y])
    return X, Y

fields = [q_lr, q_pod, q_podp]
arrows = [(u_lr, v_lr), (u_pod, v_pod), (u_podp, v_podp)]
lefts = [224, 200, 200]; rights = [4, 8, 19]; title_centers = [678, 682, 694]
heads = []; plots = []; bars = []
for i in range(3):
    w = lefts[i] + FW + rights[i]
    hd = figure(width=w, height=HEAD_H, min_border=0, x_range=Range1d(0, w), y_range=Range1d(HEAD_H, 0),
                x_axis_type=None, y_axis_type=None, output_backend="svg", toolbar_location=None)
    hd.grid.visible = False; hd.outline_line_color = None
    hd.text(x=[title_centers[i]], y=[54], text=[titles[i]], text_align="center", text_baseline="middle",
            text_font=value("Liberation Sans"), text_font_style="bold", text_font_size="98px", text_color="black")
    heads.append(hd)
    p = figure(width=w, height=130 + FH + 178, min_border_left=lefts[i], min_border_right=rights[i],
               min_border_top=130, min_border_bottom=178, x_range=Range1d(0, XMAX), y_range=Range1d(0, YMAX),
               output_backend="svg", toolbar_location=None)
    p.grid.visible = False
    p.image(image=[display_field(fields[i])], x=0, y=0, dw=XMAX, dh=YMAX, color_mapper=mapper)
    X, Y = quiver_lines(*arrows[i])
    p.multi_line(xs=X, ys=Y, line_color="#111111", line_width=2)
    p.outline_line_color = "#b8b8b8"
    p.xaxis.ticker = FixedTicker(ticks=x_ticks); p.yaxis.ticker = FixedTicker(ticks=y_ticks)
    for ax, lab in ((p.xaxis[0], "x (km)"), (p.yaxis[0], "y (km)")):
        ax.axis_label = lab; ax.axis_label_text_font = "Liberation Serif"; ax.axis_label_text_font_size = "70px"; ax.axis_label_text_font_style = "normal"
        ax.major_label_text_font = "Liberation Sans"; ax.major_label_text_font_size = "60px"; ax.major_label_text_color = "#262626"; ax.axis_label_text_color = "#262626"
        ax.major_tick_line_color = None; ax.minor_tick_line_color = None; ax.axis_line_color = None
    p.xaxis.major_label_standoff = 32; p.xaxis.axis_label_standoff = 10
    p.yaxis.major_label_standoff = 32; p.yaxis.axis_label_standoff = 36
    p.yaxis.major_label_orientation = "vertical"
    p.add_layout(Title(text="Year = 100.0", align="center", text_font="Liberation Serif", text_font_size="73px", text_font_style="normal", text_color="#222222", standoff=20), "above")
    plots.append(p)
    c = figure(width=w, height=2095 - 1800, min_border_left=lefts[i], min_border_right=rights[i], min_border_top=51, min_border_bottom=161,
               x_range=Range1d(-6, 6), y_range=Range1d(0, 1), output_backend="svg", toolbar_location=None)
    c.grid.visible = False; c.yaxis.visible = False
    c.image(image=[np.linspace(-6, 6, 256)[None, :]], x=-6, y=0, dw=12, dh=1, color_mapper=mapper)
    c.outline_line_color = "#333333"
    ax = c.xaxis[0]; ax.ticker = FixedTicker(ticks=bar_ticks); ax.axis_label = "q (10\u207b\u2075 s\u207b\u00b9)"
    ax.major_label_overrides = {t: str(t) for t in bar_ticks}
    ax.axis_label_text_font = "Liberation Serif"; ax.axis_label_text_font_size = "62px"; ax.axis_label_text_font_style = "normal"; ax.axis_label_text_color = "#262626"
    ax.major_label_text_font = "Liberation Sans"; ax.major_label_text_font_size = "60px"; ax.major_label_text_color = "#262626"
    ax.major_tick_in = 7; ax.major_tick_out = 0; ax.minor_tick_line_color = None; ax.major_tick_line_color = "#333333"; ax.axis_line_color = None
    ax.major_label_standoff = 39; ax.axis_label_standoff = 4
    bars.append(c)
layout = column(row(*heads, spacing=0), row(*plots, spacing=0), row(*bars, spacing=0), spacing=0)
open("out.html", "w").write(file_html(layout, INLINE))
